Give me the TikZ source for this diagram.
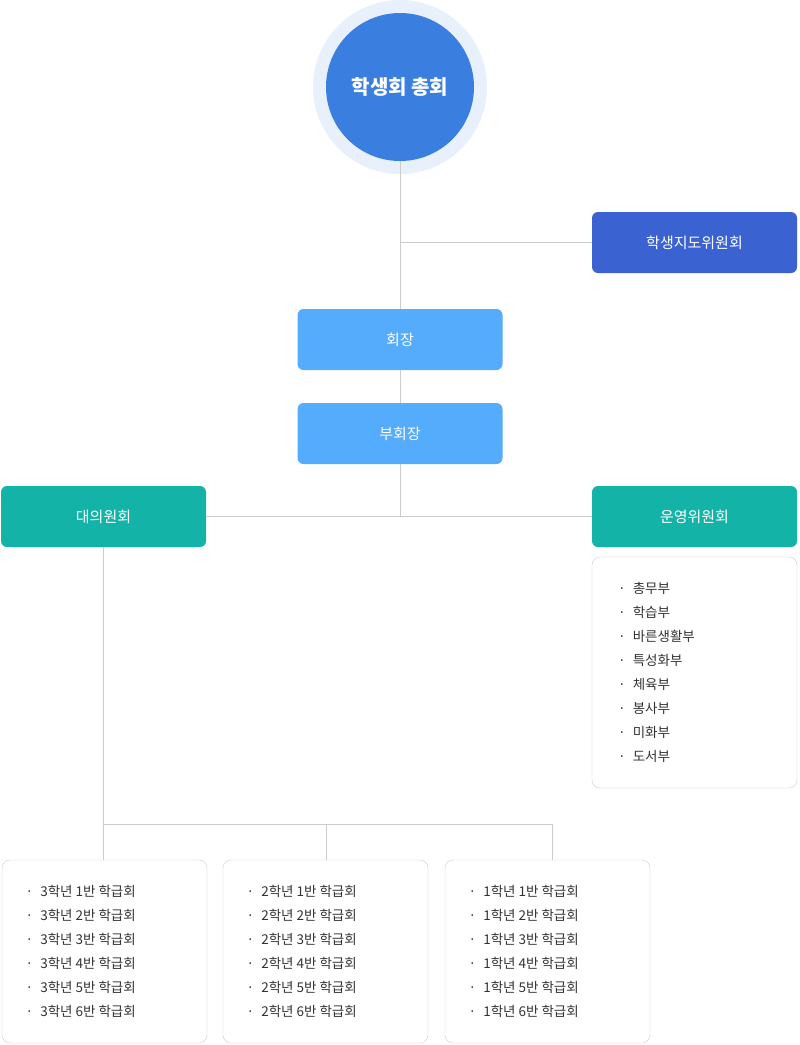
\documentclass[tikz,border=0pt]{standalone}
\usepackage{fontspec}
\setmainfont{Noto Sans CJK KR}
\definecolor{haloblue}{HTML}{E8F0FC}
\definecolor{mainblue}{HTML}{3A7FE0}
\definecolor{guideblue}{HTML}{3B62D1}
\definecolor{skyblue}{HTML}{55ABFC}
\definecolor{teal}{HTML}{14B3A8}
\definecolor{linegray}{HTML}{CCCCCC}
\definecolor{textgray}{HTML}{333333}
\tikzset{
  orgbox/.style={rounded corners=6pt,minimum width=205pt,minimum height=61pt,inner sep=0pt,text=white,font=\fontsize{15}{18}\selectfont},
  listbox/.style={draw=linegray,fill=white,rounded corners=8pt,minimum width=205pt,inner sep=0pt},
  conn/.style={draw=linegray,line width=0.8pt},
  item/.style={anchor=west,inner sep=0pt,text=textgray,font=\fontsize{13.5}{16}\selectfont}
}
\begin{document}
\begin{tikzpicture}[x=1pt,y=-1pt]
   \useasboundingbox (0,0) rectangle (800,1045);
   % Top circle
   \fill[haloblue] (400,87) circle (87);
   \node[circle,fill=mainblue,minimum size=148pt,inner sep=0pt,text=white,font=\fontsize{20}{24}\selectfont\bfseries] (assembly) at (400,87) {학생회 총회};
   % Boxes
   \node[orgbox,fill=guideblue] (guide) at (694.5,242.5) {학생지도위원회};
   \node[orgbox,fill=skyblue] (pres) at (400,339.5) {회장};
   \node[orgbox,fill=skyblue] (vice) at (400,433.5) {부회장};
   \node[orgbox,fill=teal] (council) at (103.5,516.5) {대의원회};
   \node[orgbox,fill=teal] (ops) at (694.5,516.5) {운영위원회};
   % Connectors
   \coordinate (jguide) at (400,242.5);
   \coordinate (jmid) at (400,516.5);
   \draw[conn] (assembly) -- (pres);
   \draw[conn] (jguide) -- (guide);
   \draw[conn] (pres) -- (vice);
   \draw[conn] (vice) -- (jmid);
   \draw[conn] (council) -- (ops);
   % Operations departments
   \node[listbox,minimum height=231pt] (opslist) at (694.5,672.5) {};
   \foreach \dept [count=\i from 0] in {총무부,학습부,바른생활부,특성화부,체육부,봉사부,미화부,도서부}
     \node[item] (dept\i) at (618,588+24*\i) {·\hspace{7pt}\dept};
   % Class councils
   \foreach \g/\x [count=\k] in {3/104.5,2/325.5,1/547.5}{
     \node[listbox,minimum height=183pt] (grade\k) at (\x,951.5) {};
     \foreach \c in {1,...,6}
       \node[item] (cls\k\c) at (\x-79,867+24*\c) {·\hspace{7pt}\g 학년 \c 반 학급회};
   }
   \coordinate (jc) at (103.5,824);
   \coordinate (jc2) at (326,824);
   \coordinate (jc3) at (552,824);
   \draw[conn] (council) -- (jc) -- (jc3) -- (jc3 |- grade3.north);
   \draw[conn] (jc2) -- (jc2 |- grade2.north);
   \draw[conn] (jc) -- (grade1.north -| jc);
\end{tikzpicture}
\end{document}
